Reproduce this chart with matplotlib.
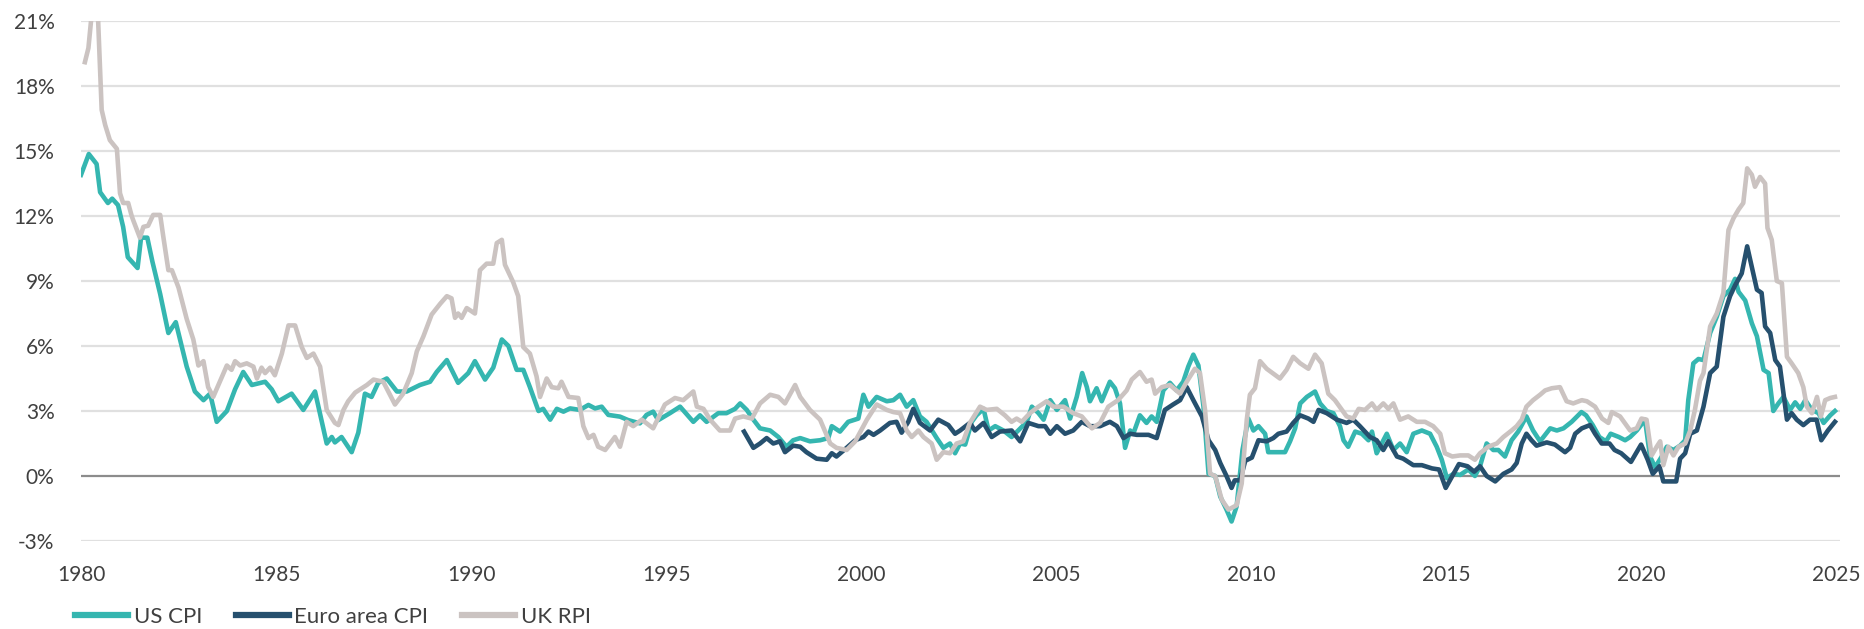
# Import required libraries
import matplotlib
matplotlib.use('Agg')
import matplotlib.pyplot as plt

# Font and colours
plt.rcParams['font.family'] = ['Lato', 'DejaVu Sans']
text_color = '#404040'
us_color = '#35b6b0'
euro_color = '#26506e'
uk_color = '#cbc3c1'

# US CPI (annual % change)
us_year = [1980.0, 1980.2, 1980.4, 1980.49, 1980.69, 1980.8, 1980.95, 1981.08, 1981.2, 1981.45,
           1981.54, 1981.7, 1981.83, 1982.03, 1982.24, 1982.43, 1982.71, 1982.92, 1983.14, 1983.31,
           1983.48, 1983.74, 1983.95, 1984.16, 1984.38, 1984.72, 1984.89, 1985.06, 1985.4, 1985.7,
           1986.0, 1986.3, 1986.43, 1986.51, 1986.68, 1986.94, 1987.11, 1987.28, 1987.45, 1987.62,
           1987.84, 1988.1, 1988.35, 1988.69, 1988.95, 1989.12, 1989.38, 1989.67, 1989.93, 1990.1,
           1990.36, 1990.57, 1990.79, 1990.96, 1991.17, 1991.34, 1991.51, 1991.73, 1991.85, 1992.03,
           1992.2, 1992.37, 1992.54, 1992.79, 1993.01, 1993.18, 1993.35, 1993.52, 1993.82, 1994.03,
           1994.33, 1994.5, 1994.67, 1994.8, 1995.1, 1995.36, 1995.7, 1995.87, 1996.04, 1996.34,
           1996.55, 1996.77, 1996.9, 1997.07, 1997.24, 1997.41, 1997.67, 1997.88, 1998.09, 1998.26,
           1998.44, 1998.69, 1998.95, 1999.16, 1999.25, 1999.46, 1999.67, 1999.93, 2000.06, 2000.19,
           2000.4, 2000.66, 2000.83, 2001.0, 2001.17, 2001.34, 2001.51, 2001.68, 2001.94, 2002.11,
           2002.28, 2002.41, 2002.54, 2002.67, 2002.84, 2002.96, 2003.14, 2003.27, 2003.44, 2003.65,
           2003.86, 2004.03, 2004.25, 2004.38, 2004.55, 2004.68, 2004.85, 2005.02, 2005.23, 2005.36,
           2005.53, 2005.67, 2005.79, 2005.87, 2006.04, 2006.17, 2006.38, 2006.51, 2006.64, 2006.77,
           2006.9, 2006.98, 2007.15, 2007.32, 2007.45, 2007.58, 2007.75, 2007.92, 2008.09, 2008.26,
           2008.39, 2008.52, 2008.65, 2008.78, 2008.91, 2009.08, 2009.21, 2009.37, 2009.5, 2009.63,
           2009.78, 2009.93, 2010.06, 2010.19, 2010.36, 2010.44, 2010.66, 2010.87, 2011.0, 2011.13,
           2011.26, 2011.43, 2011.64, 2011.77, 2011.94, 2012.11, 2012.28, 2012.37, 2012.49, 2012.67,
           2012.84, 2013.01, 2013.1, 2013.22, 2013.35, 2013.48, 2013.65, 2013.82, 2013.99, 2014.16,
           2014.38, 2014.59, 2014.76, 2014.89, 2015.02, 2015.19, 2015.36, 2015.57, 2015.74, 2015.87,
           2016.04, 2016.21, 2016.34, 2016.51, 2016.68, 2016.85, 2017.06, 2017.23, 2017.41, 2017.67,
           2017.84, 2018.01, 2018.22, 2018.47, 2018.59, 2018.76, 2018.93, 2019.1, 2019.22, 2019.43,
           2019.59, 2019.72, 2019.89, 2020.1, 2020.23, 2020.36, 2020.53, 2020.66, 2020.83, 2021.0,
           2021.13, 2021.21, 2021.34, 2021.47, 2021.6, 2021.77, 2021.94, 2022.11, 2022.28, 2022.41,
           2022.5, 2022.67, 2022.84, 2022.97, 2023.14, 2023.27, 2023.39, 2023.52, 2023.65, 2023.82,
           2023.95, 2024.08, 2024.21, 2024.38, 2024.55, 2024.68, 2024.85, 2024.97]
us_cpi = [13.9, 14.86, 14.4, 13.1, 12.6, 12.8, 12.5, 11.5, 10.1, 9.6,
          11.0, 11.0, 9.9, 8.4, 6.6, 7.1, 5.05, 3.9, 3.5, 3.8,
          2.5, 3.0, 4.0, 4.8, 4.2, 4.35, 4.0, 3.45, 3.8, 3.05,
          3.9, 1.5, 1.8, 1.55, 1.8, 1.1, 2.0, 3.8, 3.65, 4.3,
          4.5, 3.9, 3.9, 4.2, 4.35, 4.8, 5.35, 4.3, 4.75, 5.3,
          4.45, 5.0, 6.3, 6.0, 4.9, 4.9, 4.1, 3.0, 3.1, 2.6,
          3.1, 2.97, 3.12, 3.05, 3.28, 3.12, 3.2, 2.82, 2.74, 2.58,
          2.43, 2.82, 2.97, 2.58, 2.9, 3.2, 2.5, 2.8, 2.5, 2.9,
          2.9, 3.1, 3.35, 3.05, 2.6, 2.2, 2.1, 1.8, 1.35, 1.65,
          1.75, 1.6, 1.65, 1.75, 2.3, 2.05, 2.5, 2.65, 3.75, 3.2,
          3.65, 3.45, 3.5, 3.75, 3.2, 3.5, 2.75, 2.5, 1.75, 1.3,
          1.5, 1.05, 1.5, 1.45, 2.5, 2.8, 3.1, 2.1, 2.3, 2.1,
          1.8, 2.1, 2.5, 3.2, 2.9, 2.6, 3.5, 3.05, 3.5, 2.65,
          3.65, 4.75, 4.1, 3.45, 4.05, 3.45, 4.35, 4.05, 3.35, 1.3,
          2.1, 1.95, 2.8, 2.45, 2.75, 2.5, 3.95, 4.3, 3.95, 4.35,
          5.05, 5.6, 5.1, 3.2, 0.1, 0.0, -0.95, -1.55, -2.1, -1.4,
          1.2, 2.65, 2.1, 2.3, 1.95, 1.1, 1.1, 1.1, 1.6, 2.2,
          3.35, 3.65, 3.9, 3.35, 3.0, 2.9, 2.3, 1.65, 1.35, 2.05,
          1.95, 1.65, 2.05, 1.05, 1.5, 1.95, 1.2, 1.5, 1.1, 1.95,
          2.1, 1.95, 1.35, 0.75, -0.1, 0.1, 0.05, 0.3, 0.0, 0.45,
          1.5, 1.2, 1.2, 0.9, 1.65, 2.05, 2.75, 2.1, 1.6, 2.2,
          2.1, 2.2, 2.5, 2.95, 2.8, 2.35, 1.8, 1.6, 1.95, 1.8,
          1.65, 1.8, 2.1, 2.6, 0.9, 0.4, 0.9, 1.35, 1.2, 1.4,
          1.65, 3.5, 5.2, 5.4, 5.35, 6.6, 7.35, 8.3, 8.6, 9.1,
          8.5, 8.1, 7.05, 6.45, 4.9, 4.75, 3.0, 3.35, 3.65, 3.05,
          3.4, 3.1, 3.5, 3.05, 2.9, 2.45, 2.8, 3.0]

# Euro area CPI, starts in 1997
euro_year = [1997.0, 1997.24, 1997.41, 1997.58, 1997.75, 1997.92, 1998.05, 1998.26, 1998.44, 1998.6,
             1998.86, 1999.12, 1999.25, 1999.37, 1999.63, 1999.85, 2000.06, 2000.19, 2000.32, 2000.49,
             2000.74, 2000.91, 2001.04, 2001.21, 2001.34, 2001.51, 2001.77, 2001.98, 2002.24, 2002.41,
             2002.54, 2002.79, 2002.92, 2003.14, 2003.35, 2003.56, 2003.86, 2004.08, 2004.29, 2004.55,
             2004.72, 2004.85, 2005.02, 2005.23, 2005.44, 2005.66, 2005.87, 2006.13, 2006.38, 2006.56,
             2006.73, 2006.9, 2007.07, 2007.37, 2007.58, 2007.79, 2008.0, 2008.18, 2008.35, 2008.52,
             2008.74, 2008.91, 2009.08, 2009.21, 2009.37, 2009.5, 2009.58, 2009.72, 2009.85, 2010.02,
             2010.19, 2010.4, 2010.57, 2010.7, 2010.91, 2011.08, 2011.26, 2011.47, 2011.6, 2011.73,
             2011.94, 2012.2, 2012.45, 2012.62, 2012.79, 2013.05, 2013.22, 2013.39, 2013.52, 2013.74,
             2013.9, 2014.16, 2014.38, 2014.64, 2014.82, 2014.99, 2015.16, 2015.33, 2015.55, 2015.72,
             2015.87, 2016.04, 2016.26, 2016.47, 2016.68, 2016.81, 2016.94, 2017.06, 2017.19, 2017.32,
             2017.58, 2017.79, 2018.05, 2018.18, 2018.31, 2018.48, 2018.69, 2018.82, 2018.99, 2019.19,
             2019.32, 2019.49, 2019.74, 2020.0, 2020.17, 2020.3, 2020.47, 2020.57, 2020.9, 2021.0,
             2021.13, 2021.26, 2021.43, 2021.6, 2021.77, 2021.94, 2022.11, 2022.28, 2022.41, 2022.58,
             2022.72, 2022.84, 2022.97, 2023.09, 2023.18, 2023.31, 2023.44, 2023.56, 2023.74, 2023.86,
             2023.99, 2024.16, 2024.33, 2024.5, 2024.62, 2024.79, 2024.97]
euro_cpi = [2.05, 1.3, 1.5, 1.75, 1.5, 1.6, 1.1, 1.4, 1.35, 1.1,
            0.8, 0.75, 1.05, 0.9, 1.3, 1.65, 1.8, 2.05, 1.9, 2.1,
            2.45, 2.5, 2.0, 2.5, 3.1, 2.45, 2.1, 2.6, 2.35, 1.95,
            2.1, 2.45, 2.1, 2.45, 1.8, 2.05, 2.1, 1.6, 2.45, 2.3,
            2.3, 1.95, 2.3, 1.95, 2.1, 2.5, 2.3, 2.3, 2.5, 2.3,
            1.75, 1.95, 1.9, 1.9, 1.75, 3.05, 3.3, 3.5, 4.1, 3.5,
            2.75, 1.65, 1.2, 0.6, 0.0, -0.55, -0.2, -0.2, 0.7, 0.85,
            1.65, 1.6, 1.75, 1.95, 2.05, 2.45, 2.8, 2.65, 2.5, 3.05,
            2.9, 2.6, 2.45, 2.6, 2.3, 1.8, 1.65, 1.2, 1.6, 0.9,
            0.8, 0.5, 0.5, 0.35, 0.3, -0.55, 0.0, 0.55, 0.45, 0.2,
            0.45, 0.0, -0.25, 0.1, 0.3, 0.6, 1.5, 1.95, 1.65, 1.4,
            1.55, 1.45, 1.1, 1.3, 1.95, 2.2, 2.35, 1.95, 1.5, 1.5,
            1.2, 1.05, 0.65, 1.45, 0.75, 0.1, 0.45, -0.25, -0.25, 0.8,
            1.05, 1.95, 2.1, 3.2, 4.75, 5.05, 7.35, 8.3, 8.8, 9.35,
            10.6, 9.65, 8.6, 8.45, 6.9, 6.6, 5.35, 5.05, 2.6, 2.9,
            2.6, 2.35, 2.6, 2.6, 1.65, 2.1, 2.5]

# UK RPI (values above 21% run off the top of the chart)
uk_year = [1980.1, 1980.19, 1980.3, 1980.42, 1980.53, 1980.62, 1980.74, 1980.92, 1981.0, 1981.08,
           1981.21, 1981.3, 1981.34, 1981.51, 1981.6, 1981.72, 1981.85, 1982.03, 1982.11, 1982.24,
           1982.33, 1982.5, 1982.71, 1982.88, 1983.01, 1983.14, 1983.26, 1983.39, 1983.56, 1983.74,
           1983.86, 1983.95, 1984.08, 1984.25, 1984.42, 1984.51, 1984.63, 1984.72, 1984.85, 1984.97,
           1985.15, 1985.32, 1985.49, 1985.66, 1985.79, 1985.96, 1986.13, 1986.3, 1986.51, 1986.6,
           1986.73, 1986.85, 1987.03, 1987.2, 1987.33, 1987.5, 1987.75, 1988.05, 1988.26, 1988.48,
           1988.61, 1988.78, 1988.99, 1989.21, 1989.38, 1989.5, 1989.59, 1989.67, 1989.76, 1989.89,
           1990.1, 1990.23, 1990.4, 1990.57, 1990.66, 1990.79, 1990.87, 1991.08, 1991.21, 1991.34,
           1991.51, 1991.68, 1991.77, 1991.94, 1992.07, 1992.24, 1992.32, 1992.5, 1992.75, 1992.88,
           1993.01, 1993.14, 1993.26, 1993.44, 1993.69, 1993.82, 1993.99, 1994.16, 1994.38, 1994.67,
           1994.97, 1995.23, 1995.44, 1995.7, 1995.79, 1995.96, 1996.13, 1996.38, 1996.64, 1996.77,
           1996.98, 1997.2, 1997.41, 1997.67, 1997.88, 1998.05, 1998.31, 1998.44, 1998.69, 1998.95,
           1999.21, 1999.37, 1999.63, 1999.85, 2000.15, 2000.4, 2000.66, 2000.83, 2001.0, 2001.17,
           2001.3, 2001.47, 2001.6, 2001.81, 2001.94, 2002.11, 2002.28, 2002.45, 2002.62, 2002.79,
           2003.05, 2003.22, 2003.48, 2003.69, 2003.86, 2003.99, 2004.12, 2004.33, 2004.55, 2004.76,
           2004.93, 2005.19, 2005.44, 2005.66, 2005.92, 2006.13, 2006.34, 2006.59, 2006.81, 2006.94,
           2007.15, 2007.32, 2007.45, 2007.54, 2007.71, 2007.92, 2008.18, 2008.35, 2008.56, 2008.69,
           2008.82, 2008.95, 2009.08, 2009.25, 2009.42, 2009.63, 2009.76, 2009.89, 2009.97, 2010.1,
           2010.23, 2010.4, 2010.74, 2010.91, 2011.08, 2011.26, 2011.47, 2011.64, 2011.81, 2011.98,
           2012.15, 2012.33, 2012.45, 2012.62, 2012.76, 2012.92, 2013.1, 2013.22, 2013.39, 2013.52,
           2013.65, 2013.82, 2014.03, 2014.25, 2014.46, 2014.67, 2014.85, 2014.97, 2015.16, 2015.36,
           2015.57, 2015.74, 2015.87, 2016.08, 2016.3, 2016.47, 2016.68, 2016.81, 2016.94, 2017.06,
           2017.23, 2017.41, 2017.54, 2017.71, 2017.92, 2018.09, 2018.26, 2018.48, 2018.61, 2018.82,
           2019.0, 2019.16, 2019.25, 2019.46, 2019.72, 2019.89, 2020.01, 2020.14, 2020.27, 2020.4,
           2020.49, 2020.57, 2020.7, 2020.83, 2020.96, 2021.13, 2021.26, 2021.38, 2021.51, 2021.6,
           2021.77, 2021.94, 2022.11, 2022.24, 2022.37, 2022.5, 2022.62, 2022.72, 2022.84, 2022.92,
           2023.05, 2023.18, 2023.24, 2023.35, 2023.48, 2023.61, 2023.74, 2023.86, 2024.03, 2024.16,
           2024.25, 2024.38, 2024.51, 2024.61, 2024.72, 2024.85, 2024.97]
uk_rpi = [19.1, 19.75, 21.8, 21.9, 16.9, 16.2, 15.5, 15.1, 13.05, 12.6,
          12.6, 12.0, 11.8, 11.0, 11.5, 11.55, 12.05, 12.05, 11.05, 9.5,
          9.5, 8.7, 7.25, 6.3, 5.1, 5.3, 4.1, 3.65, 4.35, 5.1,
          4.9, 5.3, 5.1, 5.2, 5.05, 4.5, 5.0, 4.75, 5.0, 4.65,
          5.65, 6.95, 6.95, 5.95, 5.45, 5.65, 5.05, 3.05, 2.45, 2.35,
          3.05, 3.45, 3.85, 4.05, 4.2, 4.45, 4.35, 3.3, 3.8, 4.75,
          5.75, 6.45, 7.45, 7.95, 8.3, 8.2, 7.3, 7.5, 7.3, 7.75,
          7.5, 9.5, 9.8, 9.8, 10.75, 10.9, 9.75, 8.95, 8.3, 5.95,
          5.65, 4.6, 3.65, 4.5, 4.1, 4.05, 4.35, 3.65, 3.6, 2.3,
          1.75, 1.9, 1.35, 1.2, 1.8, 1.35, 2.5, 2.3, 2.6, 2.2,
          3.3, 3.6, 3.5, 3.9, 3.2, 3.1, 2.6, 2.1, 2.1, 2.65,
          2.75, 2.65, 3.35, 3.75, 3.65, 3.35, 4.2, 3.65, 3.05, 2.6,
          1.5, 1.3, 1.2, 1.6, 2.6, 3.3, 3.05, 2.95, 2.9, 2.1,
          1.8, 2.1, 1.8, 1.5, 0.75, 1.1, 1.05, 1.5, 1.6, 2.45,
          3.2, 3.05, 3.1, 2.8, 2.5, 2.65, 2.5, 2.9, 3.2, 3.45,
          3.2, 3.2, 2.9, 2.75, 2.2, 2.45, 3.2, 3.5, 3.95, 4.45,
          4.8, 4.35, 4.45, 3.8, 4.1, 4.2, 3.8, 4.35, 4.95, 4.75,
          3.05, 0.1, 0.0, -1.1, -1.55, -1.35, -0.35, 2.6, 3.75, 4.05,
          5.3, 4.95, 4.5, 4.9, 5.5, 5.2, 4.95, 5.6, 5.2, 3.8,
          3.5, 3.05, 2.75, 2.65, 3.1, 3.05, 3.35, 3.05, 3.35, 3.1,
          3.35, 2.6, 2.75, 2.5, 2.5, 2.3, 1.95, 1.05, 0.9, 0.95,
          0.95, 0.75, 1.05, 1.35, 1.5, 1.8, 2.1, 2.3, 2.6, 3.2,
          3.5, 3.75, 3.95, 4.05, 4.1, 3.45, 3.35, 3.5, 3.45, 3.2,
          2.65, 2.45, 2.95, 2.75, 2.1, 2.2, 2.65, 2.6, 0.95, 1.35,
          1.6, 0.5, 1.35, 0.95, 1.35, 1.5, 2.1, 3.05, 4.4, 4.75,
          6.9, 7.5, 8.45, 11.35, 11.9, 12.3, 12.6, 14.2, 13.9, 13.35,
          13.8, 13.5, 11.45, 10.9, 9.0, 8.9, 5.5, 5.2, 4.75, 4.1,
          3.2, 2.9, 3.65, 2.75, 3.5, 3.6, 3.65]

# Axis ticks
x_ticks = [1980, 1985, 1990, 1995, 2000, 2005, 2010, 2015, 2020, 2025]
y_ticks = [-3, 0, 3, 6, 9, 12, 15, 18, 21]

# Create the figure
fig = plt.figure(figsize=(18.64, 6.29), dpi=100)
ax = fig.add_axes([81 / 1864, 1 - 541 / 629, (1840 - 81) / 1864, (541 - 21) / 629])

# Horizontal grid, darker line at zero
for v in y_ticks:
    if v == 0:
        ax.axhline(v, color='#8c8c8c', lw=1.6, zorder=1)
    else:
        ax.axhline(v, color='#e0e0e0', lw=1.6, zorder=1)

# Plot the three series
ax.plot(us_year, us_cpi, color=us_color, lw=3.3, label='US CPI', zorder=3)
ax.plot(euro_year, euro_cpi, color=euro_color, lw=3.3, label='Euro area CPI', zorder=4)
ax.plot(uk_year, uk_rpi, color=uk_color, lw=3.3, label='UK RPI', zorder=5)

# Axis limits and ticks
ax.set_xlim(1980, 2025.1)
ax.set_ylim(-3, 21)
ax.set_xticks(x_ticks)
ax.set_xticklabels([str(t) for t in x_ticks])
ax.set_yticks(y_ticks)
ax.set_yticklabels([f'{t}%' for t in y_ticks])
ax.tick_params(axis='both', length=0, labelsize=15, labelcolor=text_color)
ax.tick_params(axis='x', pad=17)
ax.tick_params(axis='y', pad=19)
for spine in ax.spines.values():
    spine.set_visible(False)

# Legend below the chart
leg = fig.legend(loc='center left', bbox_to_anchor=(75 / 1864, 1 - 617 / 629), ncol=3,
                 frameon=False, fontsize=16, handlelength=2.4, handletextpad=0.25,
                 columnspacing=1.5, borderpad=0, borderaxespad=0)
for t in leg.get_texts():
    t.set_color(text_color)
for line in leg.get_lines():
    line.set_linewidth(4.5)

# Save the plot
plt.savefig('out.png', dpi=100)
